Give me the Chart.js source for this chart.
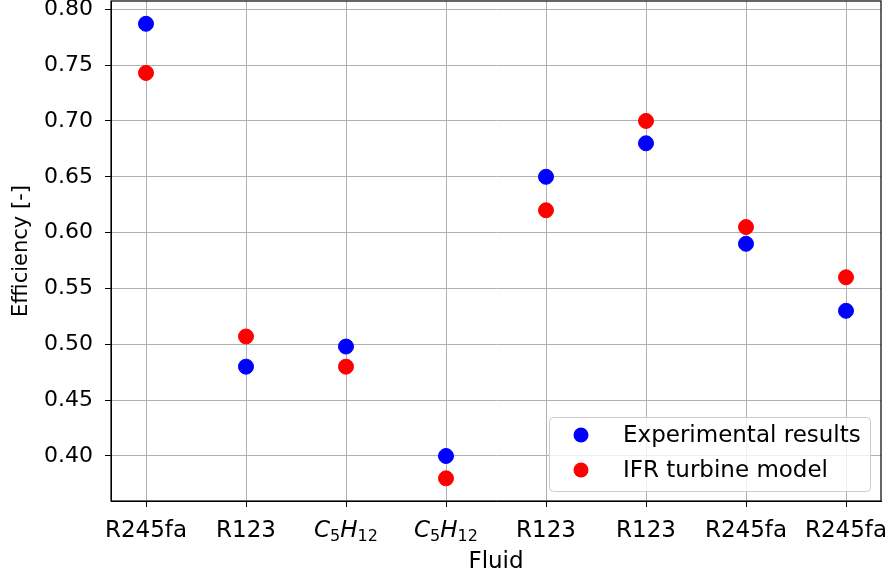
<!DOCTYPE html>
<html>
<head>
<meta charset="utf-8">
<script src="https://cdn.jsdelivr.net/npm/chart.js@4"></script>
<style>
  html, body { margin: 0; padding: 0; background: #fff; }
  #wrap { width: 890px; height: 577px; }
</style>
</head>
<body>
<div id="wrap"><canvas id="effChart" width="890" height="577"></canvas></div>
<script>
var fluids = ["R245fa", "R123", "C₅H₁₂", "C₅H₁₂", "R123", "R123", "R245fa", "R245fa"];
var experimental = [0.787, 0.48, 0.498, 0.40, 0.65, 0.68, 0.59, 0.53];
var ifrModel = [0.743, 0.507, 0.48, 0.38, 0.62, 0.70, 0.605, 0.56];
var yTicks = [0.40, 0.45, 0.50, 0.55, 0.60, 0.65, 0.70, 0.75, 0.80];

var FONT = "'DejaVu Sans', sans-serif";
var FS = 23;
var SUBS = "₀₁₂₃₄₅₆₇₈₉";

function toPoints(vals) {
    return vals.map(function (v, i) { return { x: i, y: v }; });
}

// split a label into runs, subscript digits become small lowered text (like mathtext)
function labelRuns(txt) {
    var runs = [];
    var math = /[₀-₉]/.test(txt);
    for (var i = 0; i < txt.length; i++) {
        var k = SUBS.indexOf(txt[i]);
        var sub = k >= 0;
        var ch = sub ? String(k) : txt[i];
        var last = runs[runs.length - 1];
        if (last && last.sub === sub) last.t += ch;
        else runs.push({ t: ch, sub: sub, italic: math && !sub });
    }
    return runs;
}

function runFont(r) {
    return (r.italic ? 'italic ' : '') + (r.sub ? Math.round(FS * 0.7) : FS) + 'px ' + FONT;
}

// x tick labels drawn through the x scale so subscripts look right
var xLabelsPlugin = {
    id: 'xLabels',
    afterDraw: function (chart) {
        var c = chart.ctx, sx = chart.scales.x, a = chart.chartArea;
        c.save();
        c.fillStyle = '#000';
        c.textBaseline = 'alphabetic';
        c.textAlign = 'left';
        fluids.forEach(function (lbl, i) {
            var runs = labelRuns(lbl);
            var w = 0;
            runs.forEach(function (r) { c.font = runFont(r); r.w = c.measureText(r.t).width; w += r.w; });
            var x = sx.getPixelForValue(i) - w / 2;
            var base = a.bottom + 36;
            runs.forEach(function (r) {
                c.font = runFont(r);
                c.fillText(r.t, x, base + (r.sub ? 4 : 0));
                x += r.w;
            });
        });
        c.restore();
    }
};

// matplotlib-like frame and legend inside the axes
var framePlugin = {
    id: 'frame',
    afterDraw: function (chart) {
        var c = chart.ctx, a = chart.chartArea;
        c.save();
        c.strokeStyle = '#000';
        c.lineWidth = 1.2;
        c.strokeRect(a.left, a.top, a.right - a.left, a.bottom - a.top);

        var w = 321, h = 74;
        var x0 = a.right - 11 - w, y0 = a.bottom - 10 - h;
        c.fillStyle = 'rgba(255,255,255,0.8)';
        c.strokeStyle = '#cccccc';
        c.lineWidth = 1;
        c.beginPath();
        c.roundRect(x0 + 0.5, y0 + 0.5, w, h, 4);
        c.fill();
        c.stroke();
        c.font = FS + 'px ' + FONT;
        c.textBaseline = 'middle';
        chart.data.datasets.forEach(function (ds, i) {
            var cy = y0 + 18 + i * 35;
            c.fillStyle = ds.backgroundColor;
            c.beginPath();
            c.arc(x0 + 32, cy, 7.5, 0, Math.PI * 2);
            c.fill();
            c.fillStyle = '#000';
            c.fillText(ds.label, x0 + 74, cy + 1);
        });
        c.restore();
    }
};

var ctx = document.getElementById('effChart').getContext('2d');
var myChart = new Chart(ctx, {
    type: 'scatter',
    data: {
        datasets: [
            {
                label: "Experimental results",
                data: toPoints(experimental),
                backgroundColor: "#0000ff",
                borderColor: "#0000ff",
                pointRadius: 7.5,
                pointHoverRadius: 7.5,
            },
            {
                label: "IFR turbine model",
                data: toPoints(ifrModel),
                backgroundColor: "#ff0000",
                borderColor: "#ff0000",
                pointRadius: 7.5,
                pointHoverRadius: 7.5,
            },
        ],
    },
    plugins: [framePlugin, xLabelsPlugin],
    options: {
        responsive: false,
        animation: false,
        layout: { autoPadding: false, padding: { top: 1, right: 9, left: 0, bottom: 0 } },
        scales: {
            x: {
                type: 'linear',
                min: -0.35,
                max: 7.35,
                afterBuildTicks: function (axis) {
                    axis.ticks = fluids.map(function (f, i) { return { value: i }; });
                },
                afterFit: function (axis) {
                    axis.height = 76;
                    axis.paddingLeft = 0;
                    axis.paddingRight = 0;
                },
                grid: { color: '#b0b0b0', lineWidth: 1, tickColor: '#000', tickLength: 6 },
                border: { color: '#000' },
                ticks: { display: false },
                title: { display: true, text: 'Fluid', color: '#000', font: { family: FONT, size: FS }, padding: { top: 0, bottom: 1 } },
            },
            y: {
                min: 0.3597,
                max: 0.8074,
                afterBuildTicks: function (axis) {
                    axis.ticks = yTicks.map(function (v) { return { value: v }; });
                },
                afterFit: function (axis) {
                    axis.width = 111;
                    axis.paddingTop = 0;
                    axis.paddingBottom = 0;
                },
                grid: { color: '#b0b0b0', lineWidth: 1, tickColor: '#000', tickLength: 6 },
                border: { color: '#000' },
                ticks: {
                    color: '#000',
                    padding: 12,
                    font: { family: FONT, size: 22 },
                    callback: function (v) { return v.toFixed(2); },
                },
                title: { display: true, text: 'Efficiency [-]', color: '#000', font: { family: FONT, size: 21 }, padding: { top: 9, bottom: 0 } },
            },
        },
        plugins: {
            legend: { display: false },
            tooltip: { enabled: false },
        },
    },
});
</script>
</body>
</html>
